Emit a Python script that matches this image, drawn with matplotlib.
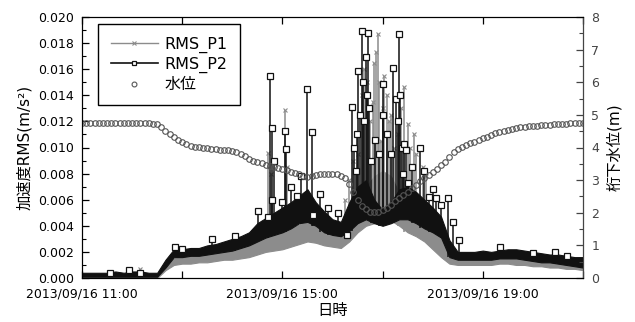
import numpy as np
import pandas as pd
import matplotlib
matplotlib.use("Agg")
import matplotlib.pyplot as plt
import matplotlib.dates as mdates
from matplotlib.lines import Line2D
from matplotlib.ticker import MultipleLocator, FuncFormatter

plt.rcParams['font.family'] = ['DejaVu Sans', 'Noto Sans CJK JP']

DAY = "2013-09-16 "
t10 = pd.date_range(DAY + "11:00", DAY + "21:00", freq="10min")
t5 = pd.date_range(DAY + "11:00", DAY + "21:00", freq="5min")

# dense RMS record drawn as its 10-min envelope (bottom / top of the band)
p2_lo = [0.0001, 0.0001, 0.0001, 0.0001, 0.0001, 0.0001,
         0.0001, 0.0001, 0.0001, 0.0001, 0.0008, 0.0016,
         0.0016, 0.0017, 0.0017, 0.0018, 0.0019, 0.0020,
         0.0021, 0.0023, 0.0025, 0.0028, 0.0031, 0.0033,
         0.0035, 0.0038, 0.0042, 0.0043, 0.0040, 0.0035,
         0.0033, 0.0032, 0.0036, 0.0042, 0.0045, 0.0042,
         0.0040, 0.0042, 0.0045, 0.0045, 0.0042, 0.0038,
         0.0035, 0.0031, 0.0016, 0.0014, 0.0014, 0.0014,
         0.0014, 0.0014, 0.0015, 0.0015, 0.0015, 0.0014,
         0.0013, 0.0012, 0.0012, 0.0011, 0.0010, 0.0009,
         0.0008]
p2_hi = [0.0004, 0.0004, 0.0004, 0.0004, 0.0005, 0.0004,
         0.0005, 0.0005, 0.0004, 0.0004, 0.0014, 0.0022,
         0.0022, 0.0023, 0.0023, 0.0025, 0.0026, 0.0028,
         0.0030, 0.0032, 0.0035, 0.0042, 0.0046, 0.0050,
         0.0054, 0.0058, 0.0063, 0.0068, 0.0058, 0.0051,
         0.0045, 0.0043, 0.0058, 0.0070, 0.0075, 0.0060,
         0.0052, 0.0058, 0.0068, 0.0070, 0.0066, 0.0060,
         0.0054, 0.0047, 0.0029, 0.0020, 0.0020, 0.0020,
         0.0021, 0.0020, 0.0021, 0.0022, 0.0022, 0.0021,
         0.0020, 0.0019, 0.0018, 0.0018, 0.0017, 0.0016,
         0.0016]
p1_lo = [0.0000, 0.0000, 0.0000, 0.0000, 0.0000, 0.0000,
         0.0000, 0.0000, 0.0000, 0.0000, 0.0006, 0.0010,
         0.0011, 0.0011, 0.0012, 0.0012, 0.0013, 0.0014,
         0.0014, 0.0015, 0.0016, 0.0018, 0.0020, 0.0021,
         0.0022, 0.0024, 0.0026, 0.0028, 0.0027, 0.0025,
         0.0024, 0.0023, 0.0028, 0.0035, 0.0040, 0.0042,
         0.0045, 0.0044, 0.0040, 0.0035, 0.0032, 0.0028,
         0.0022, 0.0016, 0.0011, 0.0010, 0.0010, 0.0010,
         0.0010, 0.0010, 0.0011, 0.0011, 0.0010, 0.0010,
         0.0009, 0.0009, 0.0008, 0.0008, 0.0007, 0.0007,
         0.0006]
p1_hi = [0.0003, 0.0003, 0.0003, 0.0003, 0.0003, 0.0003,
         0.0004, 0.0003, 0.0003, 0.0003, 0.0011, 0.0015,
         0.0017, 0.0017, 0.0018, 0.0019, 0.0020, 0.0021,
         0.0022, 0.0024, 0.0026, 0.0028, 0.0031, 0.0033,
         0.0035, 0.0038, 0.0041, 0.0044, 0.0040, 0.0037,
         0.0036, 0.0035, 0.0045, 0.0060, 0.0070, 0.0078,
         0.0082, 0.0078, 0.0065, 0.0050, 0.0045, 0.0040,
         0.0036, 0.0031, 0.0018, 0.0015, 0.0015, 0.0015,
         0.0015, 0.0015, 0.0016, 0.0016, 0.0015, 0.0015,
         0.0014, 0.0014, 0.0013, 0.0013, 0.0012, 0.0012,
         0.0011]

# isolated peaks / outlying samples
p2_peak_t = ["11:34", "11:56", "12:09", "12:51", "13:00", "13:36", "14:03", "14:31",
             "14:43", "14:45", "14:47", "14:48", "14:50", "15:00", "15:03", "15:04",
             "15:10", "15:17", "15:22", "15:29", "15:35", "15:37", "15:45", "15:55",
             "16:07", "16:17", "16:23", "16:26", "16:28", "16:29", "16:31", "16:33",
             "16:35", "16:36", "16:38", "16:40", "16:41", "16:43", "16:44", "16:46",
             "16:51", "16:56", "17:00", "17:01", "17:05", "17:10", "17:12", "17:16",
             "17:18", "17:20", "17:21", "17:23", "17:24", "17:26", "17:28", "17:30",
             "17:35", "17:45", "17:50", "17:55", "18:00", "18:04", "18:10", "18:18",
             "18:24", "18:31", "19:21", "20:00", "20:26", "20:41"]
p2_peak_v = [0.0004, 0.0006, 0.0004, 0.0024, 0.0022, 0.0030, 0.0032, 0.0051,
             0.0047, 0.0155, 0.0060, 0.0115, 0.0090, 0.0058, 0.0113, 0.0099,
             0.0070, 0.0063, 0.0078, 0.0145, 0.0112, 0.0048, 0.0064, 0.0054,
             0.0050, 0.0033, 0.0131, 0.0100, 0.0082, 0.0110, 0.0159, 0.0125,
             0.0189, 0.0150, 0.0120, 0.0169, 0.0140, 0.0188, 0.0130, 0.0090,
             0.0106, 0.0095, 0.0149, 0.0125, 0.0110, 0.0095, 0.0161, 0.0137,
             0.0120, 0.0187, 0.0140, 0.0100, 0.0080, 0.0103, 0.0098, 0.0073,
             0.0085, 0.0100, 0.0082, 0.0062, 0.0068, 0.0061, 0.0056, 0.0061,
             0.0043, 0.0029, 0.0024, 0.0019, 0.0020, 0.0017]
p1_peak_t = ["12:09", "14:43", "14:46", "15:03", "15:05", "16:15", "16:20", "16:25",
             "16:30", "16:35", "16:38", "16:41", "16:45", "16:48", "16:50", "16:52",
             "16:54", "16:56", "16:58", "17:00", "17:02", "17:05", "17:08", "17:10",
             "17:14", "17:18", "17:22", "17:26", "17:30", "17:33", "17:38", "17:40",
             "17:48", "17:52"]
p1_peak_v = [0.0007, 0.0096, 0.0080, 0.0129, 0.0085, 0.0060, 0.0075, 0.0090,
             0.0095, 0.0140, 0.0160, 0.0150, 0.0120, 0.0135, 0.0165, 0.0173,
             0.0187, 0.0150, 0.0105, 0.0130, 0.0155, 0.0140, 0.0120, 0.0125,
             0.0100, 0.0110, 0.0130, 0.0146, 0.0118, 0.0100, 0.0110, 0.0095,
             0.0085, 0.0078]

water = [
    4.75, 4.75, 4.75, 4.75, 4.75, 4.75, 4.75, 4.75, 4.75, 4.75, 4.75, 4.75,
    4.75, 4.75, 4.75, 4.75, 4.74, 4.73, 4.72, 4.62, 4.52, 4.42, 4.32, 4.24,
    4.18, 4.12, 4.06, 4.03, 4.01, 4.00, 3.98, 3.96, 3.95, 3.93, 3.92, 3.91,
    3.88, 3.85, 3.80, 3.73, 3.65, 3.60, 3.55, 3.51, 3.47, 3.44, 3.40, 3.37,
    3.33, 3.30, 3.26, 3.22, 3.18, 3.14, 3.10, 3.12, 3.15, 3.18, 3.19, 3.20,
    3.20, 3.18, 3.14, 3.05, 2.88, 2.65, 2.40, 2.20, 2.10, 2.03, 2.01, 2.02,
    2.07, 2.15, 2.25, 2.35, 2.45, 2.55, 2.65, 2.75, 2.85, 2.97, 3.08, 3.17,
    3.25, 3.35, 3.45, 3.55, 3.70, 3.85, 3.95, 4.02, 4.08, 4.13, 4.18, 4.23,
    4.28, 4.33, 4.38, 4.43, 4.47, 4.51, 4.54, 4.57, 4.60, 4.62, 4.63, 4.65,
    4.66, 4.67, 4.68, 4.69, 4.70, 4.71, 4.72, 4.73, 4.73, 4.74, 4.74, 4.75,
    4.75,
]

P1C, P2C, WC = "#8c8c8c", "#111111", "#555555"

fig = plt.figure(figsize=(6.35, 3.22), dpi=100)
ax = fig.add_axes([82/635, 1 - 278/322, 501/635, 261/322])
ax2 = ax.twinx()


def draw(lo, hi, peak_t, peak_v, color, marker, z, **mk):
    ax.fill_between(t10, lo, hi, color=color, lw=0.8, zorder=z)
    pt = pd.to_datetime([DAY + s for s in peak_t])
    # peaks rise from the bottom of the band at the nearest 10-min step
    foot = pd.Series(lo, index=t10).reindex(pt, method="nearest").values
    ax.vlines(pt, foot, peak_v, color=color, lw=1.1, zorder=z + 0.1)
    ax.plot(pt, peak_v, ls="none", marker=marker, color=color, zorder=z + 0.2, **mk)


draw(p1_lo, p1_hi, p1_peak_t, p1_peak_v, P1C, "x", 2, ms=3.5, mew=0.8)
draw(p2_lo, p2_hi, p2_peak_t, p2_peak_v, P2C, "s", 3, ms=4.2, mfc="white", mec=P2C, mew=0.9)
ax2.plot(t5, water, ls="none", marker="o", ms=4.0, mfc="none", mec=WC, mew=0.8)

ax.set_xlim(pd.Timestamp(DAY + "11:00"), pd.Timestamp(DAY + "21:00"))
ax.set_ylim(0, 0.020)
ax2.set_ylim(0, 8)

ax.xaxis.set_major_locator(mdates.HourLocator(byhour=range(11, 22, 2)))
ax.xaxis.set_major_formatter(FuncFormatter(
    lambda x, pos: mdates.num2date(x).strftime("%Y/%m/%d %H:%M")
    if mdates.num2date(x).hour in (11, 15, 19) else ""))
ax.yaxis.set_major_locator(MultipleLocator(0.002))
ax.yaxis.set_minor_locator(MultipleLocator(0.001))
ax.yaxis.set_major_formatter(FuncFormatter(lambda v, pos: f"{v:.3f}"))
ax2.yaxis.set_major_locator(MultipleLocator(1))
ax2.yaxis.set_minor_locator(MultipleLocator(0.5))

ax.tick_params(axis="both", which="both", direction="in", top=True, labelsize=9)
ax.tick_params(which="major", length=5, width=0.9)
ax.tick_params(which="minor", length=3, width=0.8)
ax.tick_params(axis="x", pad=7)
ax.tick_params(axis="y", pad=6)
ax2.tick_params(which="both", direction="in", labelsize=9, labelcolor="#444444", color="#444444")
ax2.tick_params(which="major", length=5, width=0.9, pad=6)
ax2.tick_params(which="minor", length=3, width=0.8)
ax2.spines["right"].set_color("#444444")

ax.set_xlabel("日時", fontsize=11, labelpad=2)
ax.set_ylabel("加速度RMS(m/s²)", fontsize=11, labelpad=4)
ax2.set_ylabel("桁下水位(m)", fontsize=11, labelpad=5)

handles = [Line2D([], [], color=P1C, lw=1.0, marker="x", ms=3.0, mew=0.8),
           Line2D([], [], color=P2C, lw=1.2, marker="s", ms=3.5, mfc="white", mec=P2C, mew=0.9),
           Line2D([], [], ls="none", marker="o", ms=3.5, mfc="none", mec=WC, mew=0.8)]
leg = ax2.legend(handles, ["RMS_P1", "RMS_P2", "水位"], loc="upper left",
                 bbox_to_anchor=((98 - 82) / 501, 1 - (24 - 17) / 261), borderaxespad=0,
                 fontsize=11.5, handlelength=2.95, handletextpad=0.4, labelspacing=0.25,
                 borderpad=0.8, numpoints=1, fancybox=False, framealpha=1, edgecolor="black")
leg.get_frame().set_linewidth(1.0)

fig.savefig("out.png", dpi=100)
